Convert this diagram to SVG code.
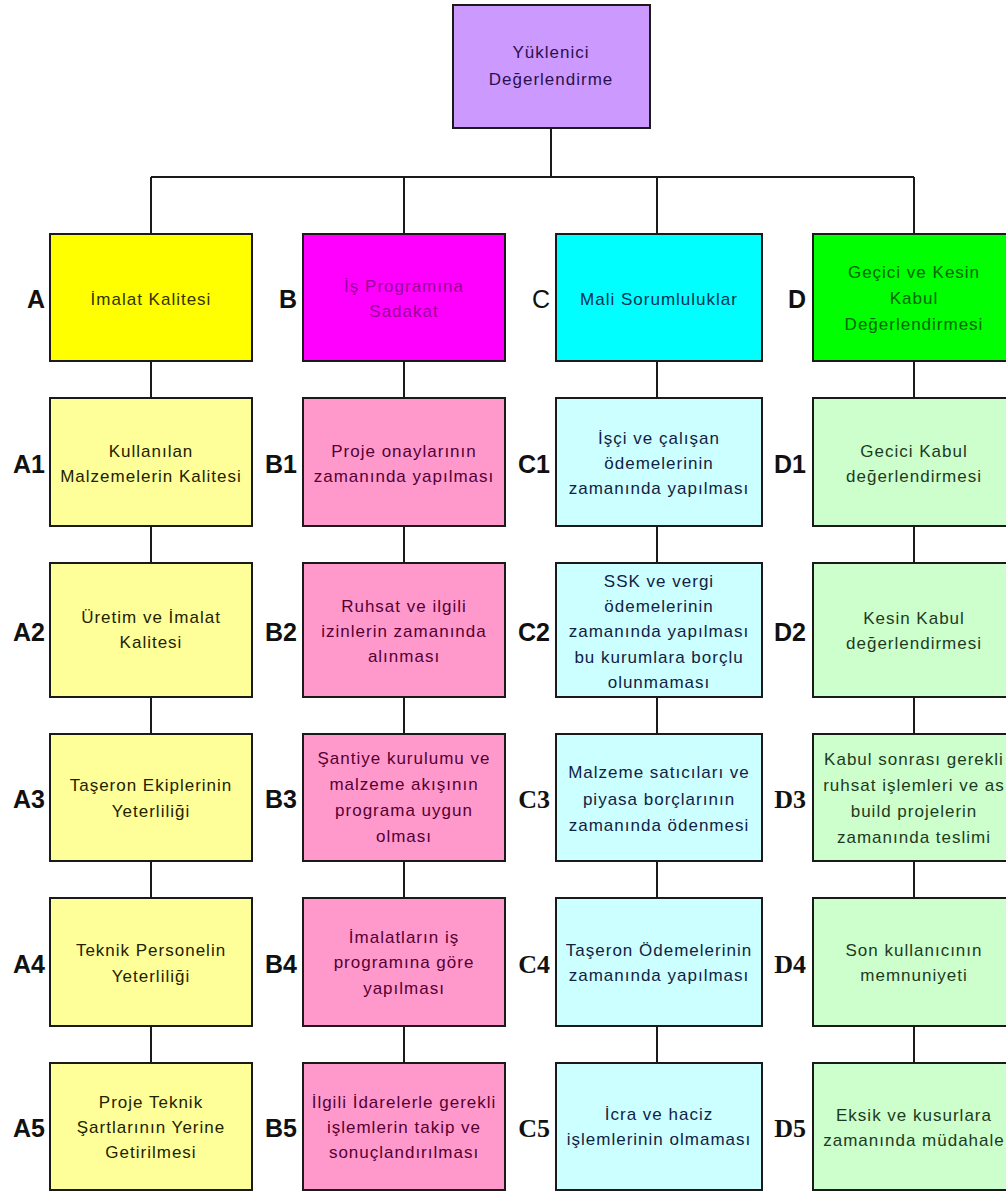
<svg xmlns="http://www.w3.org/2000/svg" width="1006" height="1193" viewBox="0 0 1006 1193">
<style>
rect{stroke:#1a1a1a;stroke-width:2}
.con path{stroke:#1a1a1a;stroke-width:2;fill:none}
text{font-family:"Liberation Sans",Arial,sans-serif;font-size:17px;letter-spacing:1px;text-anchor:middle}
g text.lb{font-family:"Liberation Sans",Arial,sans-serif;font-size:25px;font-weight:bold;letter-spacing:0;text-anchor:end;fill:#111}
g text.lbs{font-family:"Liberation Serif","Times New Roman",serif;font-size:26px;font-weight:bold;letter-spacing:0;text-anchor:end;fill:#111}
.top rect{fill:#cc99ff}.top text{fill:#2a1050}
.ha rect{fill:#ffff00}.ha text{fill:#333300}
.hb rect{fill:#ff00ff}.hb text{fill:#990099}
.hc rect{fill:#00ffff}.hc text{fill:#003355}
.hd rect{fill:#00ff00}.hd text{fill:#006600}
.a rect{fill:#ffff99}.a text{fill:#222200}
.b rect{fill:#ff99cc}.b text{fill:#550033}
.c rect{fill:#ccffff}.c text{fill:#112244}
.d rect{fill:#ccffcc}.d text{fill:#1e3a1e}
</style>
<rect x="0" y="0" width="1006" height="1193" style="fill:#ffffff;stroke:none"/>
<g class="con" id="connectors">
<path d="M551,128V177M151,177H914M151,177V234M404,177V234M657,177V234M914,177V234"/>
<path d="M151,361V398M151,526V563M151,697V734M151,861V898M151,1026V1063"/>
<path d="M404,361V398M404,526V563M404,697V734M404,861V898M404,1026V1063"/>
<path d="M657,361V398M657,526V563M657,697V734M657,861V898M657,1026V1063"/>
<path d="M914,361V398M914,526V563M914,697V734M914,861V898M914,1026V1063"/>
</g>
<g id="root" class="top"><rect x="453" y="5" width="197" height="123"/><text x="551" y="58">Yüklenici</text><text x="551" y="85">Değerlendirme</text></g>

<g id="A" class="ha"><rect x="50" y="234" width="202" height="127"/><text x="151" y="304.5">İmalat Kalitesi</text><text class="lb" x="45" y="308">A</text></g>
<g id="B" class="hb"><rect x="303" y="234" width="202" height="127"/><text x="404" y="292">İş Programına</text><text x="404" y="317">Sadakat</text><text class="lb" x="297" y="308">B</text></g>
<g id="C" class="hc"><rect x="556" y="234" width="206" height="127"/><text x="659" y="304.5">Mali Sorumluluklar</text><text class="lb" x="550" y="308" style="font-weight:normal">C</text></g>
<g id="D" class="hd"><rect x="813" y="234" width="204" height="127"/><text x="914" y="278">Geçici ve Kesin</text><text x="914" y="304">Kabul</text><text x="914" y="330">Değerlendirmesi</text><text class="lb" x="806" y="308">D</text></g>

<g id="A1" class="a"><rect x="50" y="398" width="202" height="128"/><text x="151" y="456.5">Kullanılan</text><text x="151" y="481.5">Malzemelerin Kalitesi</text><text class="lb" x="45" y="473">A1</text></g>
<g id="A2" class="a"><rect x="50" y="563" width="202" height="134"/><text x="151" y="623">Üretim ve İmalat</text><text x="151" y="648">Kalitesi</text><text class="lb" x="45" y="641">A2</text></g>
<g id="A3" class="a"><rect x="50" y="734" width="202" height="127"/><text x="151" y="791">Taşeron Ekiplerinin</text><text x="151" y="817">Yeterliliği</text><text class="lb" x="45" y="808">A3</text></g>
<g id="A4" class="a"><rect x="50" y="898" width="202" height="128"/><text x="151" y="956">Teknik Personelin</text><text x="151" y="982">Yeterliliği</text><text class="lb" x="45" y="973">A4</text></g>
<g id="A5" class="a"><rect x="50" y="1063" width="202" height="127"/><text x="151" y="1108">Proje Teknik</text><text x="151" y="1133">Şartlarının Yerine</text><text x="151" y="1158">Getirilmesi</text><text class="lb" x="45" y="1137">A5</text></g>

<g id="B1" class="b"><rect x="303" y="398" width="202" height="128"/><text x="404" y="456.5">Proje onaylarının</text><text x="404" y="481.5">zamanında yapılması</text><text class="lb" x="297" y="473">B1</text></g>
<g id="B2" class="b"><rect x="303" y="563" width="202" height="134"/><text x="404" y="612">Ruhsat ve ilgili</text><text x="404" y="637">izinlerin zamanında</text><text x="404" y="662">alınması</text><text class="lb" x="297" y="641">B2</text></g>
<g id="B3" class="b"><rect x="303" y="734" width="202" height="127"/><text x="404" y="764">Şantiye kurulumu ve</text><text x="404" y="790">malzeme akışının</text><text x="404" y="816">programa uygun</text><text x="404" y="842">olması</text><text class="lb" x="297" y="808">B3</text></g>
<g id="B4" class="b"><rect x="303" y="898" width="202" height="128"/><text x="404" y="943">İmalatların iş</text><text x="404" y="968">programına göre</text><text x="404" y="994">yapılması</text><text class="lb" x="297" y="973">B4</text></g>
<g id="B5" class="b"><rect x="303" y="1063" width="202" height="127"/><text x="404" y="1108">İlgili İdarelerle gerekli</text><text x="404" y="1133">işlemlerin takip ve</text><text x="404" y="1158">sonuçlandırılması</text><text class="lb" x="297" y="1137">B5</text></g>

<g id="C1" class="c"><rect x="556" y="398" width="206" height="128"/><text x="659" y="444">İşçi ve çalışan</text><text x="659" y="469">ödemelerinin</text><text x="659" y="494">zamanında yapılması</text><text class="lb" x="550" y="473">C1</text></g>
<g id="C2" class="c"><rect x="556" y="563" width="206" height="134"/><text x="659" y="587">SSK ve vergi</text><text x="659" y="612">ödemelerinin</text><text x="659" y="637">zamanında yapılması</text><text x="659" y="663">bu kurumlara borçlu</text><text x="659" y="688">olunmaması</text><text class="lb" x="550" y="641">C2</text></g>
<g id="C3" class="c"><rect x="556" y="734" width="206" height="127"/><text x="659" y="778">Malzeme satıcıları ve</text><text x="659" y="805">piyasa borçlarının</text><text x="659" y="831">zamanında ödenmesi</text><text class="lbs" x="550" y="808">C3</text></g>
<g id="C4" class="c"><rect x="556" y="898" width="206" height="128"/><text x="659" y="956">Taşeron Ödemelerinin</text><text x="659" y="981">zamanında yapılması</text><text class="lbs" x="550" y="973">C4</text></g>
<g id="C5" class="c"><rect x="556" y="1063" width="206" height="127"/><text x="659" y="1120">İcra ve haciz</text><text x="659" y="1145">işlemlerinin olmaması</text><text class="lbs" x="550" y="1137">C5</text></g>

<g id="D1" class="d"><rect x="813" y="398" width="204" height="128"/><text x="914" y="456.5">Gecici Kabul</text><text x="914" y="481.5">değerlendirmesi</text><text class="lb" x="806" y="473">D1</text></g>
<g id="D2" class="d"><rect x="813" y="563" width="204" height="134"/><text x="914" y="624">Kesin Kabul</text><text x="914" y="649">değerlendirmesi</text><text class="lb" x="806" y="641">D2</text></g>
<g id="D3" class="d"><rect x="813" y="734" width="204" height="127"/><text x="914" y="765">Kabul sonrası gerekli</text><text x="914" y="791">ruhsat işlemleri ve as</text><text x="914" y="817">build projelerin</text><text x="914" y="843">zamanında teslimi</text><text class="lbs" x="806" y="808">D3</text></g>
<g id="D4" class="d"><rect x="813" y="898" width="204" height="128"/><text x="914" y="956">Son kullanıcının</text><text x="914" y="981">memnuniyeti</text><text class="lbs" x="806" y="973">D4</text></g>
<g id="D5" class="d"><rect x="813" y="1063" width="204" height="127"/><text x="914" y="1121">Eksik ve kusurlara</text><text x="914" y="1146">zamanında müdahale</text><text class="lbs" x="806" y="1137">D5</text></g>
</svg>
